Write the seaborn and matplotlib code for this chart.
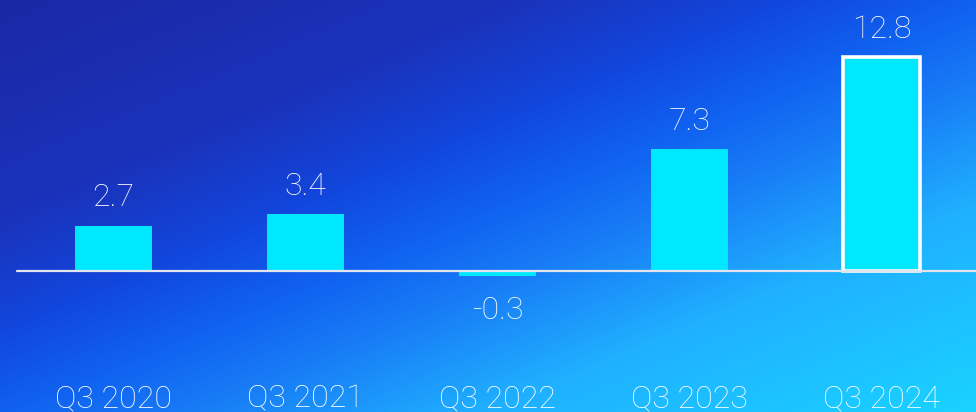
import numpy as np
import pandas as pd
import matplotlib
matplotlib.use("Agg")
import matplotlib.pyplot as plt
from matplotlib.colors import LinearSegmentedColormap
import seaborn as sns

# ---- data ----
quarters = ["Q3 2020", "Q3 2021", "Q3 2022", "Q3 2023", "Q3 2024"]
values = [2.7, 3.4, -0.3, 7.3, 12.8]
value_labels = ["2.7", "3.4", "-0.3", "7.3", "12.8"]

df = pd.DataFrame({"quarter": quarters, "value": values})

sns.set_theme(style="white")
plt.rcParams["font.family"] = ["Roboto", "Liberation Sans", "DejaVu Sans"]

W, H, DPI = 976, 412, 100
fig = plt.figure(figsize=(W / DPI, H / DPI), dpi=DPI)
ax = fig.add_axes([0, 0, 1, 1])

# background gradient
nx, ny = 400, 200
xx, yy = np.meshgrid(np.linspace(0, 1, nx), np.linspace(0, 1, ny))  # yy: 0 top
t = 0.5 * xx + 0.5 * yy
cmap = LinearSegmentedColormap.from_list(
    "bg",
    [(0.0, "#1a28a5"), (0.27, "#1a33bc"), (0.4, "#1246dc"), (0.5, "#1060f0"),
     (0.6, "#187cf6"), (0.75, "#20b0ff"), (1.0, "#1ad2ff")],
)
ax.imshow(cmap(t), extent=[0, 1, 0, 1], transform=ax.transAxes,
          aspect="auto", zorder=0, interpolation="bilinear")

bar_color = "#00E8FF"
sns.barplot(data=df, x="quarter", y="value", color=bar_color, width=0.40,
            saturation=1, ax=ax, zorder=2)

for i, p in enumerate(ax.patches):
    p.set_edgecolor("none")
    p.set_linewidth(0)
    if i == len(ax.patches) - 1:
        p.set_edgecolor("white")
        p.set_linewidth(2.6)
        p.set_joinstyle("miter")

# scales: 192 px per category, 16.7 px per unit, zero at y=271 px from top
px_cat = 192.0
px_unit = 16.7
x0_px = 113.5
zero_px = 271.0
ax.set_xlim(-x0_px / px_cat, (W - x0_px) / px_cat)
ax.set_ylim(-(H - zero_px) / px_unit, zero_px / px_unit)

# baseline
ax.axhline(0, xmin=17 / W, xmax=1, color="#e4e4ee", linewidth=1.6, zorder=3)

# value labels
fs = 23
for i, (v, lab) in enumerate(zip(values, value_labels)):
    if v >= 0:
        ax.annotate(lab, (i, v), xytext=(0, 14), textcoords="offset points",
                    ha="center", va="baseline", color="white", fontsize=fs,
                    fontweight="light", zorder=4)
    else:
        ax.annotate(lab, (i, v), xytext=(0, -31), textcoords="offset points",
                    ha="center", va="baseline", color="white", fontsize=fs,
                    fontweight="light", zorder=4)

# category labels
ylab = -(407 - zero_px) / px_unit
for i, q in enumerate(quarters):
    ax.text(i, ylab, q, ha="center", va="baseline", color="white",
            fontsize=fs, fontweight="light", zorder=4)

ax.set_xticks([])
ax.set_yticks([])
ax.set_xlabel("")
ax.set_ylabel("")
for s in ax.spines.values():
    s.set_visible(False)

fig.savefig("out.png", dpi=DPI)
